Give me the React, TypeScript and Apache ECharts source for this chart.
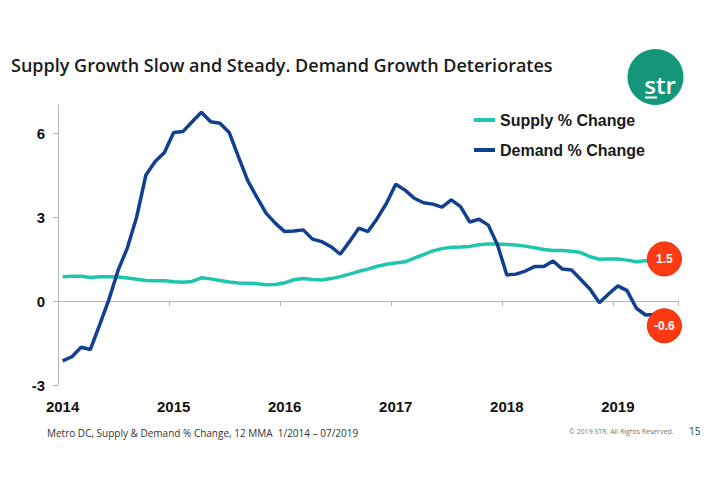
import React, { useEffect, useRef } from 'react';
import * as echarts from 'echarts';

const years = ['2014', '2015', '2016', '2017', '2018', '2019'];
const lastYearMonths = 7;
const categories: string[] = [];
years.forEach((y, yi) => {
  const n = yi === years.length - 1 ? lastYearMonths : 12;
  for (let m = 1; m <= n; m++) categories.push(`${y}-${String(m).padStart(2, '0')}`);
});

const supplyChange = [
  0.87, 0.88, 0.88, 0.84, 0.87, 0.87, 0.86, 0.82, 0.78, 0.73, 0.72, 0.72,
  0.69, 0.67, 0.70, 0.83, 0.79, 0.73, 0.68, 0.64, 0.63, 0.62, 0.58, 0.59,
  0.65, 0.76, 0.80, 0.77, 0.75, 0.80, 0.87, 0.96, 1.06, 1.14, 1.24, 1.31,
  1.36, 1.40, 1.53, 1.66, 1.79, 1.87, 1.92, 1.93, 1.95, 2.01, 2.04, 2.04,
  2.02, 2.00, 1.96, 1.90, 1.84, 1.80, 1.80, 1.78, 1.73, 1.58, 1.49, 1.50,
  1.50, 1.46, 1.40, 1.44, 1.47, 1.50, 1.50,
];

const demandChange = [
  -2.14, -1.99, -1.65, -1.73, -0.85, 0.05, 1.1, 1.9, 3.0, 4.5, 4.98, 5.3,
  6.02, 6.05, 6.4, 6.74, 6.4, 6.35, 6.02, 5.15, 4.3, 3.7, 3.13, 2.77,
  2.48, 2.5, 2.54, 2.21, 2.12, 1.94, 1.67, 2.12, 2.6, 2.48, 2.95, 3.49,
  4.17, 3.96, 3.67, 3.51, 3.46, 3.35, 3.61, 3.37, 2.82, 2.92, 2.71, 2.0,
  0.93, 0.96, 1.07, 1.23, 1.23, 1.43, 1.14, 1.11, 0.77, 0.42, -0.06, 0.25,
  0.54, 0.37, -0.26, -0.5, -0.48, -0.55, -0.6,
];

const yTickValues = [-3, 0, 3, 6];
const seriesNames = ['Supply % Change', 'Demand % Change'];
const endLabels = ['1.5', '-0.6'];

const TITLE = 'Supply Growth Slow and Steady. Demand Growth Deteriorates';
const FOOTNOTE = 'Metro DC, Supply & Demand % Change, 12 MMA  1/2014 \u2013 07/2019';
const COPYRIGHT = '\u00A9 2019 STR. All Rights Reserved.';
const PAGE = '15';

const SUPPLY_COLOR = '#1fc6ae';
const DEMAND_COLOR = '#10408f';
const BUBBLE = '#ff3a12';
const AXIS_FONT = 'Liberation Sans, Arial, sans-serif';

export default function App() {
  const ref = useRef<HTMLDivElement>(null);
  useEffect(() => {
    document.body.style.margin = '0';
    const chart = echarts.init(ref.current!, null, { renderer: 'svg' });
    const last = categories.length - 1;
    const bubble = (val: number, label: string, dy: number) => ({
      symbol: 'circle',
      symbolSize: 34,
      silent: true,
      itemStyle: { color: BUBBLE, borderColor: '#e52c05', borderWidth: 1 },
      label: {
        show: true,
        position: 'inside',
        color: '#fff',
        fontFamily: AXIS_FONT,
        fontWeight: 'bold',
        fontSize: 12,
        formatter: label,
      },
      data: [{ coord: [categories[last], val], value: val, symbolOffset: [-9, dy] }],
    });
    chart.setOption({
      animation: false,
      backgroundColor: '#ffffff',
      title: {
        text: TITLE,
        left: 6,
        top: 51,
        textStyle: {
          fontFamily: 'Open Sans, sans-serif',
          fontWeight: 600,
          fontSize: 18,
          color: '#1b1b1b',
        },
      },
      legend: {
        orient: 'vertical',
        left: 469,
        top: 106,
        itemWidth: 21,
        itemHeight: 4,
        itemGap: 12,
        icon: 'rect',
        data: seriesNames,
        textStyle: {
          fontFamily: AXIS_FONT,
          fontWeight: 'bold',
          fontSize: 16,
          color: '#1a1a1a',
          lineHeight: 18,
        },
      },
      grid: { left: 58, right: 33, top: 105, bottom: 100, containLabel: false },
      xAxis: [
        {
          type: 'category',
          data: categories,
          position: 'bottom',
          boundaryGap: true,
          axisLine: { show: false, onZero: false },
          axisTick: { show: false },
          axisLabel: {
            interval: 11,
            margin: 14,
            fontFamily: AXIS_FONT,
            fontWeight: 'bold',
            fontSize: 15,
            color: '#111',
            formatter: (v: string) => v.slice(0, 4),
          },
          splitLine: { show: false },
        },
        {
          type: 'category',
          data: categories,
          position: 'bottom',
          boundaryGap: true,
          axisLine: { show: true, onZero: true, lineStyle: { color: '#b4b4b4', width: 1 } },
          axisTick: { show: true, interval: 11, length: 5, lineStyle: { color: '#b4b4b4' } },
          axisLabel: { show: false },
          splitLine: { show: false },
        },
      ],
      yAxis: {
        type: 'value',
        min: -3,
        max: 7,
        interval: 1,
        axisLine: { show: true, lineStyle: { color: '#b4b4b4', width: 1 } },
        axisTick: { show: true, length: 5, customValues: yTickValues, lineStyle: { color: '#b4b4b4' } },
        axisLabel: {
          customValues: yTickValues,
          margin: 13,
          fontFamily: AXIS_FONT,
          fontWeight: 'bold',
          fontSize: 15,
          color: '#111',
        },
        splitLine: { show: false },
      },
      series: [
        {
          name: seriesNames[0],
          type: 'line',
          xAxisIndex: 0,
          data: supplyChange,
          symbol: 'none',
          lineStyle: { color: SUPPLY_COLOR, width: 3.5 },
          itemStyle: { color: SUPPLY_COLOR },
          z: 2,
          markPoint: bubble(supplyChange[last], endLabels[0], 0),
        },
        {
          name: seriesNames[1],
          type: 'line',
          xAxisIndex: 0,
          data: demandChange,
          symbol: 'none',
          lineStyle: { color: DEMAND_COLOR, width: 3.5 },
          itemStyle: { color: DEMAND_COLOR },
          z: 3,
          markPoint: bubble(demandChange[last], endLabels[1], 8),
        },
      ],
      graphic: [
        {
          type: 'circle',
          shape: { cx: 655.5, cy: 77, r: 28 },
          style: { fill: '#14967a' },
        },
        {
          type: 'text',
          x: 660,
          y: 84,
          style: {
            text: 'str',
            fill: '#fff',
            font: '600 24px "Open Sans", sans-serif',
            textAlign: 'center',
            textVerticalAlign: 'middle',
          },
        },
        {
          type: 'rect',
          shape: { x: 645, y: 96.5, width: 12, height: 2 },
          style: { fill: '#fff' },
        },
        {
          type: 'text',
          x: 47,
          y: 433,
          style: {
            text: FOOTNOTE,
            fill: '#333',
            font: '10px "Open Sans", sans-serif',
            textVerticalAlign: 'middle',
          },
        },
        {
          type: 'text',
          x: 569,
          y: 431,
          style: {
            text: COPYRIGHT,
            fill: '#777',
            font: '7px "Open Sans", sans-serif',
            textVerticalAlign: 'middle',
          },
        },
        {
          type: 'text',
          x: 689,
          y: 431,
          style: {
            text: PAGE,
            fill: '#333',
            font: '10px "Open Sans", sans-serif',
            textVerticalAlign: 'middle',
          },
        },
      ],
    });
    return () => chart.dispose();
  }, []);
  return (
    <div
      ref={ref}
      style={{ position: 'fixed', left: 0, top: 0, width: 711, height: 485 }}
    />
  );
}
